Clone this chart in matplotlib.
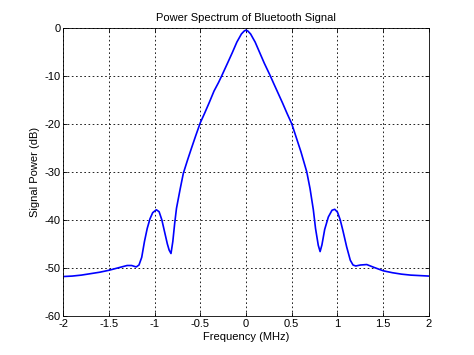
import numpy as np
import matplotlib
matplotlib.use('Agg')
import matplotlib.pyplot as plt

plt.rcParams['font.family'] = ['Liberation Sans', 'DejaVu Sans']
plt.rcParams['axes.unicode_minus'] = False

# values (MHz, dB)
freq = [-2.0, -1.9, -1.8, -1.7, -1.6, -1.5, -1.4, -1.3, -1.25, -1.2, -1.17,
        -1.14, -1.11, -1.08, -1.05, -1.02, -0.98, -0.95, -0.92, -0.89, -0.86,
        -0.84, -0.82, -0.80, -0.78, -0.76, -0.72, -0.685, -0.64, -0.6, -0.55,
        -0.5, -0.45, -0.4, -0.35, -0.3, -0.265, -0.2, -0.15, -0.1, -0.05,
        -0.02, 0.0, 0.02, 0.05, 0.1, 0.15, 0.2, 0.265, 0.3, 0.35, 0.4, 0.45,
        0.5, 0.55, 0.6, 0.664, 0.7, 0.736, 0.76, 0.79, 0.81, 0.83, 0.86,
        0.9, 0.94, 0.97, 1.0, 1.03, 1.06, 1.1, 1.14, 1.17, 1.2, 1.25, 1.32,
        1.4, 1.5, 1.6, 1.7, 1.8, 1.9, 2.0]
power = [-51.8, -51.7, -51.5, -51.2, -50.9, -50.5, -50.0, -49.5, -49.5, -49.8, -49.4,
         -47.8, -44.5, -41.8, -39.8, -38.5, -37.9, -38.3, -40.0, -42.5, -45.0,
         -46.3, -47.0, -44.5, -40.8, -37.6, -33.6, -30.3, -27.6, -25.3, -22.5,
         -19.8, -17.7, -15.5, -13.2, -11.4, -10.0, -7.3, -5.2, -3.0, -1.3,
         -0.7, -0.5, -0.7, -1.3, -3.0, -5.2, -7.4, -10.0, -11.5, -13.6, -15.7, -17.9,
         -20.0, -22.9, -25.8, -30.0, -33.5, -37.9, -41.8, -45.3, -46.6, -45.2, -42.0,
         -39.4, -38.0, -37.8, -38.4, -40.0, -42.3, -45.6, -48.4, -49.4, -49.6, -49.4, -49.3,
         -49.9, -50.6, -51.0, -51.3, -51.5, -51.6, -51.7]

xticks = [-2, -1.5, -1, -0.5, 0, 0.5, 1, 1.5, 2]
xticklabels = ['-2', '-1.5', '-1', '-0.5', '0', '0.5', '1', '1.5', '2']
yticks = [-60, -50, -40, -30, -20, -10, 0]

fig = plt.figure(figsize=(4.74, 3.55), dpi=100)
ax = fig.add_axes([0.133, 0.110, 0.772, 0.812])

ax.plot(freq, power, color=(0, 0, 1), lw=1.2)

ax.set_xlim(-2, 2)
ax.set_ylim(-60, 0)
ax.set_xticks(xticks)
ax.set_xticklabels(xticklabels)
ax.set_yticks(yticks)
ax.tick_params(direction='in', top=True, right=True, length=3, width=0.6,
               labelsize=8, pad=2)
ax.grid(True, color='black', linestyle=(0, (2, 3)), linewidth=0.6)
for s in ax.spines.values():
    s.set_linewidth(0.6)

ax.set_title('Power Spectrum of Bluetooth Signal', fontsize=8, pad=5)
ax.set_xlabel('Frequency (MHz)', fontsize=8, labelpad=2)
ax.set_ylabel('Signal Power (dB)', fontsize=8, labelpad=3)

fig.savefig('out.png', dpi=100)
